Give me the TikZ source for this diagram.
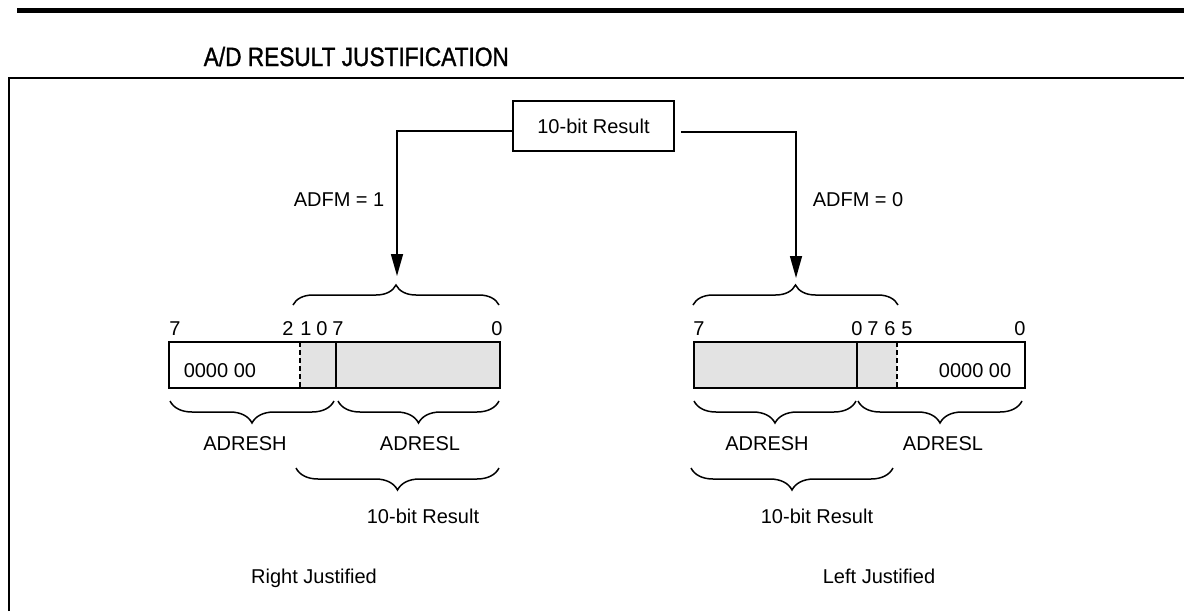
\documentclass[tikz,border=0pt]{standalone}
\usepackage{fontspec}
\setmainfont{Liberation Sans}
\newfontfamily\titlefont[FakeStretch=0.855,FakeBold=1.2]{Liberation Sans}
\usetikzlibrary{arrows.meta,decorations.pathreplacing,calc}
\begin{document}
\begin{tikzpicture}[x=0.5pt,y=-0.5pt,line width=0.75pt,
  txt/.style={inner sep=0pt,font=\fontsize{10pt}{12pt}\selectfont},
  regbox/.style={draw,line width=0.9pt},
  shadefill/.style={fill=black!11},
  dashdiv/.style={line width=0.9pt,dash pattern=on 2.5pt off 1.5pt},
  bup/.style={decorate,decoration={brace,amplitude=10pt}},
  bdown/.style={decorate,decoration={brace,mirror,amplitude=11pt}},
  arr/.style={-{Triangle[length=11pt,width=6pt]}}
]
\useasboundingbox (0,0) rectangle (1184,611);
% top bar and frame
\fill (17,8) rectangle (1184,13);
\draw[line width=1pt] (9,611) -- (9,78) -- (1184,78);
\node[anchor=base west,inner sep=0pt,font=\titlefont\fontsize{13.25pt}{15pt}\selectfont] (title) at (203,66) {A/D RESULT JUSTIFICATION};

% top box
\node[draw,line width=0.9pt,minimum width=80.5pt,minimum height=25pt,inner sep=0pt,font=\fontsize{10pt}{12pt}\selectfont] (res) at (593.5,126) {10-bit Result};
\coordinate (lt) at (397,276);
\coordinate (rt) at (796,278);
\draw[arr] ([yshift=-2.5pt]res.west) -| (lt);
\draw[arr] ([xshift=3pt,yshift=-3pt]res.east) -| (rt);
\node[txt,anchor=base west] (adfm1) at (293,206) {ADFM = 1};
\node[txt,anchor=base west] (adfm0) at (812,206) {ADFM = 0};

% left register (right justified)
\fill[shadefill] (300,342) rectangle (500,388);
\draw[regbox] (169,342) rectangle (500,388);
\draw[dashdiv] (300,342) -- (300,388);
\draw[line width=0.9pt] (336,342) -- (336,388);
\node[txt,anchor=base west] (lz) at (183,377) {0000 00};
\node[txt,anchor=base] (lb7) at (175,335) {7};
\node[txt,anchor=base] (lb2) at (288,335) {2};
\node[txt,anchor=base] (lb1) at (306,335) {1};
\node[txt,anchor=base] (lb0) at (322,335) {0};
\node[txt,anchor=base] (lb7b) at (338,335) {7};
\node[txt,anchor=base] (lb0b) at (497,335) {0};
\draw[bup] (293,305) -- (499,305);
\draw[bdown] (170,401) -- (334,401);
\draw[bdown] (338,401) -- (499,401);
\draw[bdown] (296,468) -- (499,468);
\node[txt,anchor=base] (lh) at (245,450) {ADRESH};
\node[txt,anchor=base] (ll) at (420,450) {ADRESL};
\node[txt,anchor=base] (lr) at (423,523) {10-bit Result};
\node[txt,anchor=base] (rj) at (314,583) {Right Justified};

% right register (left justified)
\fill[shadefill] (694,342) rectangle (897,388);
\draw[regbox] (694,342) rectangle (1025,388);
\draw[line width=0.9pt] (857,342) -- (857,388);
\draw[dashdiv] (897,342) -- (897,388);
\node[txt,anchor=base east] (rz) at (1012,377) {0000 00};
\node[txt,anchor=base] (rb7) at (699,335) {7};
\node[txt,anchor=base] (rb0) at (857,335) {0};
\node[txt,anchor=base] (rb7b) at (873,335) {7};
\node[txt,anchor=base] (rb6) at (890,335) {6};
\node[txt,anchor=base] (rb5) at (907,335) {5};
\node[txt,anchor=base] (rb0b) at (1020,335) {0};
\draw[bup] (693,305) -- (898,305);
\draw[bdown] (694,401) -- (856,401);
\draw[bdown] (858,401) -- (1022,401);
\draw[bdown] (691,468) -- (893,468);
\node[txt,anchor=base] (rh) at (767,450) {ADRESH};
\node[txt,anchor=base] (rl) at (943,450) {ADRESL};
\node[txt,anchor=base] (rr) at (817,523) {10-bit Result};
\node[txt,anchor=base] (lj) at (879,583) {Left Justified};
\end{tikzpicture}
\end{document}
